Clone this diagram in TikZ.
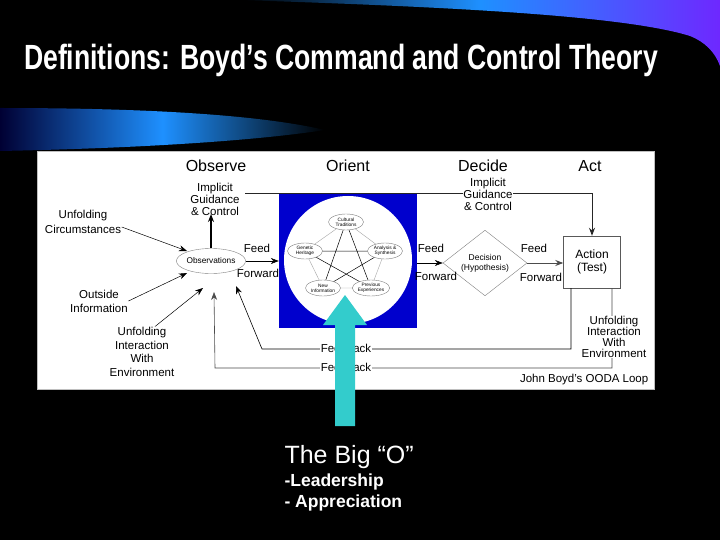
\documentclass[tikz,border=0pt]{standalone}
\usepackage{fontspec}
\setmainfont{Liberation Sans}
\usetikzlibrary{arrows.meta,shapes.geometric,positioning}

\definecolor{swooshblue}{RGB}{30,144,255}
\definecolor{swooshviolet}{RGB}{110,40,255}
\definecolor{orientblue}{RGB}{0,0,205}
\definecolor{bigocyan}{RGB}{51,204,204}

\begin{document}
\begin{tikzpicture}[x=1pt, y=-1pt,
    lbl/.style={font=\fontsize{11.5}{12}\selectfont, align=center, inner sep=0.5pt},
    whitelbl/.style={lbl, fill=white},
    phase/.style={font=\fontsize{16}{18}\selectfont},
    oval/.style={ellipse, draw=gray, fill=white, inner sep=0pt, align=center,
        minimum width=35pt, minimum height=16pt, font=\fontsize{4.8}{5.2}\selectfont},
    feed/.style={-{Stealth[length=8pt, width=6pt]}, line width=0.5pt},
    loopline/.style={draw=gray!60!black, line width=0.6pt}]
    \useasboundingbox (0,0) rectangle (720,540);
    % Background and swooshes:
    \fill[black] (0,0) rectangle (720,540);
    \shade[left color=black, right color=swooshviolet, middle color=swooshblue]
        (240,0) .. controls (420,6) and (620,14) .. (690,36)
        .. controls (705,42) and (715,52) .. (720,66) -- (720,0) -- cycle;
    \shade[left color=black!80!blue, right color=black, middle color=swooshblue]
        (0,108) .. controls (150,108) and (260,115) .. (325,130)
        .. controls (260,140) and (150,148) .. (0,151) -- cycle;
    \node[text=white, font=\fontsize{35}{40}\selectfont\bfseries, xscale=0.76] (title) at (341,60)
        {Definitions: Boyd’s Command and Control Theory};

    % White panel with the OODA loop:
    \fill[white, draw=gray!50] (37,151) rectangle (654,389);
    \node[phase] (obsv) at (216,166) {Observe};
    \node[phase] (ornt) at (348,166) {Orient};
    \node[phase] (dcde) at (483,166) {Decide};
    \node[phase] (actt) at (590,166) {Act};

    \node[draw=gray!70!black, minimum width=57pt, minimum height=52pt, align=center,
        font=\fontsize{12}{13}\selectfont] (act) at (592,262) {Action\\(Test)};
    \node[lbl] (igl) at (215,199) {Implicit\\Guidance\\\& Control};
    \coordinate (igstart) at (245,194);
    \draw[feed, gray!30!black, line width=1pt] (igstart) -- (act.north |- igstart) -- (act.north);
    \node[whitelbl] (igr) at (488,194) {Implicit\\Guidance\\\& Control};

    % Orient square with the pentagram:
    \node[fill=orientblue, minimum width=138pt, minimum height=134pt, inner sep=0pt] (ori) at (348,261) {};
    \begin{scope}
        \clip (ori.south west) rectangle (ori.north east);
        \fill[white] (348,260) circle [radius=64pt];
    \end{scope}
    \coordinate (ctc) at (346,222);
    \coordinate (ghc) at (305,251);
    \coordinate (asc) at (385,251);
    \coordinate (nic) at (323,288);
    \coordinate (pec) at (371,288);
    \draw[gray!70, line width=0.4pt] (ctc) -- (asc) -- (pec) -- (nic) -- (ghc) -- cycle;
    \draw[line width=0.5pt] (ctc) -- (nic) -- (asc) -- (ghc) -- (pec) -- cycle;
    \node[oval] (ct) at (ctc) {Cultural\\Traditions};
    \node[oval] (gh) at (ghc) {Genetic\\Heritage};
    \node[oval] (as) at (asc) {Analysis \&\\Synthesis};
    \node[oval] (ni) at (nic) {New\\Information};
    \node[oval] (pe) at (pec) {Previous\\Experiences};

    % Observe, decide:
    \node[ellipse, draw=gray, minimum width=60pt, minimum height=25pt, inner sep=0pt,
        font=\fontsize{8.3}{9}\selectfont] (obs) at (211,261) {Observations};
    \node[diamond, draw=gray, minimum width=84pt, minimum height=60pt, inner sep=0pt, align=center,
        font=\fontsize{8.5}{10}\selectfont] (dec) at (485,263) {Decision\\(Hypothesis)};
    \coordinate (igtop) at (211,214);
    \draw[feed, line width=1.5pt] (obs.north) -- (igtop);

    \draw[feed] (obs.east) -- (obs.east -| ori.west);
    \draw[feed] (ori.east |- dec.west) -- (dec.west);
    \draw[feed, gray!60!black, line width=1pt] (dec.east) -- (act.west |- dec.east);
    \node[lbl] (fd1) at (257,248) {Feed};
    \node[lbl] (fw1) at (258,273) {Forward};
    \node[lbl] (fd2) at (431,248) {Feed};
    \node[lbl] (fw2) at (436,276) {Forward};
    \node[lbl] (fd3) at (534,248) {Feed};
    \node[lbl] (fw3) at (541,277) {Forward};

    % Outside inputs:
    \node[lbl, font=\fontsize{11.5}{15}\selectfont] (uc) at (83,222) {Unfolding\\Circumstances};
    \node[lbl, font=\fontsize{11.5}{14}\selectfont] (oi) at (99,301) {Outside\\Information};
    \node[lbl, font=\fontsize{11.5}{13.7}\selectfont] (uie) at (142,352) {Unfolding\\Interaction\\With\\Environment};
    \coordinate (in1) at (187,251);
    \coordinate (in2) at (187,273);
    \coordinate (in3) at (203,288);
    \draw[feed] ([yshift=-5pt]uc.east) -- (in1);
    \draw[feed] (oi.east) -- (in2);
    \draw[feed] ([xshift=13pt]uie.north) -- (in3);

    % Feedback loops:
    \coordinate (fbk1) at (262,349);
    \coordinate (in4) at (236,286);
    \coordinate (fbk2) at (215,368);
    \coordinate (in5) at (214,292);
    \draw[feed, loopline, draw=black] ([xshift=-21pt]act.south) |- (fbk1) -- (in4);
    \draw[feed, loopline] ([xshift=20pt]act.south) |- (fbk2) -- (in5);
    \node[whitelbl] (fb1) at (346,348) {Feedback};
    \node[whitelbl] (fb2) at (346,367) {Feedback};
    \node[whitelbl, font=\fontsize{11.5}{11}\selectfont] (uier) at (614,337) {Unfolding\\Interaction\\With\\Environment};
    \node[lbl, anchor=east] (ooda) at (649,380) {John Boyd's OODA Loop};

    % The big O:
    \fill[bigocyan] (335,426) -- (335,325) -- (323,325) -- (345,295) -- (367,325) -- (355,325) -- (355,426) -- cycle;
    \node[anchor=west, text=white, font=\fontsize{25}{28}\selectfont] (bigo) at (281,457) {The Big “O”};
    \node[anchor=west, text=white, font=\fontsize{17.5}{20}\selectfont\bfseries] (lead) at (281,482) {-Leadership};
    \node[anchor=west, text=white, font=\fontsize{17.5}{20}\selectfont\bfseries] (appr) at (281,503) {- Appreciation};
\end{tikzpicture}
\end{document}
